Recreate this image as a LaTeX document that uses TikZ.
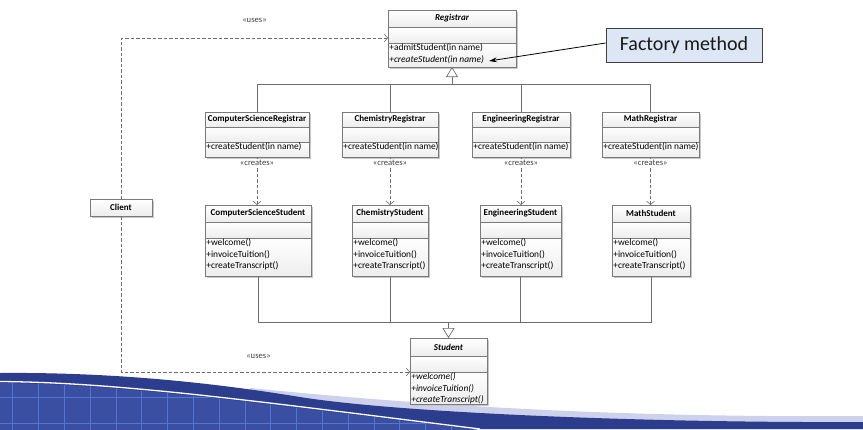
\documentclass[tikz,border=0pt]{standalone}
\usepackage{fontspec}
\setmainfont{Carlito}
\setsansfont{Carlito}
\usetikzlibrary{arrows.meta,fit,calc}
\definecolor{umlborder}{HTML}{7A7A7A}
\definecolor{umlline}{HTML}{6E6E6E}
\definecolor{fmfill}{HTML}{DCE6F4}
\definecolor{wavedark}{HTML}{2C3D8E}
\definecolor{wavebody}{HTML}{3B4FA2}
\definecolor{wavegrid}{HTML}{5274D2}
\definecolor{wavelav}{HTML}{CDD1EC}

\newcommand\hdrfont{\fontsize{9}{11}\selectfont\bfseries}
\newcommand\methfont{\fontsize{9.4}{11.5}\selectfont}

\tikzset{
 clspart/.style={draw=umlborder, line width=0.6pt, top color=white, bottom color=black!7, inner sep=0pt, outer sep=0pt, anchor=north},
 clsshadow/.style={fill=black!22},
 methtext/.style={anchor=north west, inner xsep=1.2pt, inner ysep=0.8pt, align=left, font=\methfont, text=black},
 gen/.style={draw=umlline, line width=0.7pt},
 genarrow/.style={gen, -{Triangle[open, length=10pt, width=12pt, fill=white]}},
 depend/.style={draw=umlline, line width=0.6pt, dash pattern=on 3.5pt off 2pt, -{Straight Barb[length=3.5pt, width=8pt]}},
 stereo/.style={font=\fontsize{8.6}{10}\selectfont, text=black!75, fill=white, inner sep=1pt},
 fmbox/.style={draw=black!75, line width=0.8pt, fill=fmfill, minimum width=156pt, minimum height=34pt, font=\fontsize{20}{24}\selectfont, text=black!90},
 fmarrow/.style={draw=black, line width=0.8pt, -{Stealth[length=8pt, width=5pt]}},
}

\newcommand{\umlclass}[9]{%
 \fill[clsshadow] ({#2-#4/2+1.5},{#3+1.5}) rectangle ({#2+#4/2+1.5},{#3+#5+#6+#7+1.5});
 \node[clspart, minimum width=#4pt, minimum height=#5pt, font=\hdrfont] (#1-h) at (#2,#3) {#8};
 \node[clspart, minimum width=#4pt, minimum height=#6pt] (#1-e) at (#1-h.south) {};
 \node[clspart, minimum width=#4pt, minimum height=#7pt] (#1-m) at (#1-e.south) {};
 \node[methtext] (#1-t) at (#1-m.north west) {#9};
 \node[fit=(#1-h)(#1-m), inner sep=0pt, outer sep=0pt] (#1) {};
}

\begin{document}
\begin{tikzpicture}[x=1pt, y=-1pt]
\useasboundingbox (0,0) rectangle (863,429);
\fill[white] (0,0) rectangle (863,429);

% decorative wave at the bottom
\fill[wavelav] (250,388) .. controls (400,403) and (600,418) .. (863,416) -- (863,429) -- (250,429) -- cycle;
\fill[wavedark] (0,373) .. controls (120,372) and (220,384) .. (300,397) .. controls (400,413) and (650,423) .. (863,422) -- (863,429) -- (0,429) -- cycle;
\begin{scope}
 \clip (0,383) .. controls (120,384) and (250,402) .. (480,430) -- (0,430) -- cycle;
 \fill[wavebody] (0,370) rectangle (500,430);
 \foreach \i in {0,...,19} {\draw[wavegrid, line width=0.8pt] ({12.7+25.8*\i},370) -- ({12.7+25.8*\i},430);}
 \draw[wavegrid, line width=0.8pt] (0,397) -- (500,397);
 \draw[wavegrid, line width=0.8pt] (0,423) -- (500,423);
\end{scope}
\draw[white, line width=1.3pt] (0,381.5) .. controls (120,382.5) and (250,400.5) .. (480,429);

% classes
\umlclass{reg}{452}{10}{128}{17}{16}{24}{\itshape Registrar}{+admitStudent(in name)\\\textit{+createStudent(in name)}}

\umlclass{csr}{257}{112}{104}{15}{15}{15}{ComputerScienceRegistrar}{+createStudent(in name)}
\umlclass{chr}{390}{112}{96}{15}{15}{15}{ChemistryRegistrar}{+createStudent(in name)}
\umlclass{enr}{521}{112}{98}{15}{15}{15}{EngineeringRegistrar}{+createStudent(in name)}
\umlclass{mar}{650.5}{112}{97}{15}{15}{15}{MathRegistrar}{+createStudent(in name)}

\umlclass{css}{258}{205}{106}{17}{16}{38}{ComputerScienceStudent}{+welcome()\\+invoiceTuition()\\+createTranscript()}
\umlclass{chs}{390}{205}{76}{17}{16}{38}{ChemistryStudent}{+welcome()\\+invoiceTuition()\\+createTranscript()}
\umlclass{ens}{520.5}{205}{81}{17}{16}{38}{EngineeringStudent}{+welcome()\\+invoiceTuition()\\+createTranscript()}
\umlclass{mas}{651}{205}{78}{17}{16}{38}{MathStudent}{+welcome()\\+invoiceTuition()\\+createTranscript()}

\umlclass{stu}{448.5}{338}{77}{18}{16}{32}{\itshape Student}{\textit{+welcome()}\\\textit{+invoiceTuition()}\\\textit{+createTranscript()}}

\fill[clsshadow] (91.5,200.5) rectangle (153.5,217.5);
\node[clspart, minimum width=62pt, minimum height=17pt, font=\hdrfont] (client) at (121,199) {Client};

\node[fmbox] (fm) at (684,45) {Factory method};

% generalisation to Registrar
\coordinate (rj) at (452,84);
\foreach \c in {csr,chr,enr,mar} {\draw[gen] (\c.north) |- (rj);}
\draw[genarrow] (rj) -- (reg.south);

% generalisation to Student
\coordinate (sj) at (448.5,322);
\foreach \c in {css,chs,ens,mas} {\draw[gen] (\c.south) |- (sj);}
\draw[genarrow] (sj) -- (stu.north);

% creates
\foreach \a/\b in {csr/css,chr/chs,enr/ens,mar/mas} {
 \draw[depend] (\a.south) -- node[stereo, pos=0.125] {«creates»} (\a.south |- \b.north);
}

% uses
\draw[depend] (client.north) |- node[stereo, pos=0.75, above=14pt] {«uses»} ([yshift=-3pt]reg-e.west);
\draw[depend] (client.south) |- node[stereo, pos=0.75, above=12pt, xshift=-7pt] {«uses»} (stu-m.north west);

% factory method pointer
\coordinate (fmtip) at (489,61);
\draw[fmarrow] ([yshift=2pt]fm.west) -- (fmtip);
\end{tikzpicture}
\end{document}
